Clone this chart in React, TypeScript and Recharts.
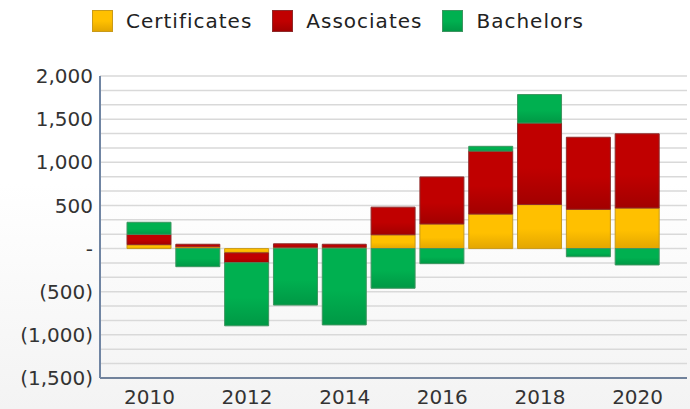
import React from 'react';
import { BarChart, Bar, XAxis, YAxis, CartesianGrid, Legend } from 'recharts';

const years = ['2010', '2011', '2012', '2013', '2014', '2015', '2016', '2017', '2018', '2019', '2020'];
const certificates = [45, 20, -50, 15, 15, 160, 285, 400, 510, 455, 470];
const associates = [120, 30, -115, 40, 35, 320, 545, 730, 945, 835, 860];
const bachelors = [140, -210, -730, -655, -885, -460, -175, 55, 330, -95, -190];

const seriesNames = ['Certificates', 'Associates', 'Bachelors'];
const yMin = -1500;
const yMax = 2000;
const yMinorStep = 500 / 3;
const yTicks: number[] = [];
for (let k = 0; k <= 21; k++) yTicks.push(yMin + k * yMinorStep);

const data = years.map((y, i) => ({
  year: y,
  Certificates: certificates[i],
  Associates: associates[i],
  Bachelors: bachelors[i],
}));

const colors: Record<string, { top: string; bottom: string; stroke: string }> = {
  Certificates: { top: '#FFC000', bottom: '#E3A600', stroke: '#C99A1A' },
  Associates: { top: '#C00000', bottom: '#A20000', stroke: '#8E2A2A' },
  Bachelors: { top: '#00B050', bottom: '#009845', stroke: '#3E9560' },
};

const fmt = (v: number) => {
  const r = Math.round(v);
  if (Math.abs(r % 500) > 1 || Math.abs(v - r) > 0.01) return '';
  if (r === 0) return '-';
  const s = Math.abs(r).toLocaleString('en-US');
  return r < 0 ? `(${s})` : s;
};

const font = '"DejaVu Sans", Verdana, sans-serif';

const LegendContent = () => (
  <div style={{ height: 76, position: 'relative', fontFamily: font }}>
    <div style={{ position: 'absolute', top: 9, left: 92, display: 'flex', alignItems: 'center' }}>
      {seriesNames.map((n) => (
        <div key={n} style={{ display: 'flex', alignItems: 'center', marginRight: 20 }}>
          <div
            style={{
              width: 21,
              height: 22,
              boxSizing: 'border-box',
              border: `1px solid ${colors[n].stroke}`,
              background: `linear-gradient(to bottom, ${colors[n].top} 50%, ${colors[n].bottom})`,
            }}
          />
          <span style={{ marginLeft: 13, fontSize: 20, letterSpacing: 1, color: '#222' }}>{n}</span>
        </div>
      ))}
    </div>
  </div>
);

export default function App() {
  return (
    <div
      style={{
        position: 'absolute',
        left: 0,
        top: 0,
        width: 690,
        height: 409,
        background: 'linear-gradient(to bottom, #ffffff 45%, #f3f3f3 100%)',
      }}
    >
      <BarChart
        width={690}
        height={409}
        data={data}
        stackOffset="sign"
        margin={{ top: 0, right: 3, bottom: 0, left: 0 }}
        barSize={44}
      >
        <defs>
          {seriesNames.map((n) => (
            <linearGradient key={n} id={`grad-${n}`} x1="0" y1="0" x2="0" y2="1">
              <stop offset="0%" stopColor={colors[n].top} />
              <stop offset="55%" stopColor={colors[n].top} />
              <stop offset="100%" stopColor={colors[n].bottom} />
            </linearGradient>
          ))}
        </defs>
        <Legend verticalAlign="top" content={<LegendContent />} wrapperStyle={{ top: 0, left: 0, width: 690 }} />
        <CartesianGrid vertical={false} stroke="#d9d9d9" strokeWidth={1.5} />
        <XAxis
          dataKey="year"
          interval={1}
          padding={{ left: 25, right: 25 }}
          tickLine={false}
          tickSize={6}
          tickMargin={6}
          height={31}
          axisLine={{ stroke: '#4d6385', strokeWidth: 1.5 }}
          tick={{ fontSize: 20, fill: '#333', fontFamily: font }}
        />
        <YAxis
          domain={[yMin, yMax]}
          ticks={yTicks}
          interval={0}
          allowDataOverflow
          tickFormatter={fmt}
          tickLine={false}
          tickSize={5}
          tickMargin={2}
          width={100}
          axisLine={{ stroke: '#7085a3', strokeWidth: 2 }}
          tick={{ fontSize: 20, fill: '#333', fontFamily: font }}
        />
        {seriesNames.map((n) => (
          <Bar
            key={n}
            dataKey={n}
            stackId="a"
            fill={`url(#grad-${n})`}
            stroke={colors[n].stroke}
            strokeWidth={1}
            isAnimationActive={false}
          />
        ))}
      </BarChart>
    </div>
  );
}
